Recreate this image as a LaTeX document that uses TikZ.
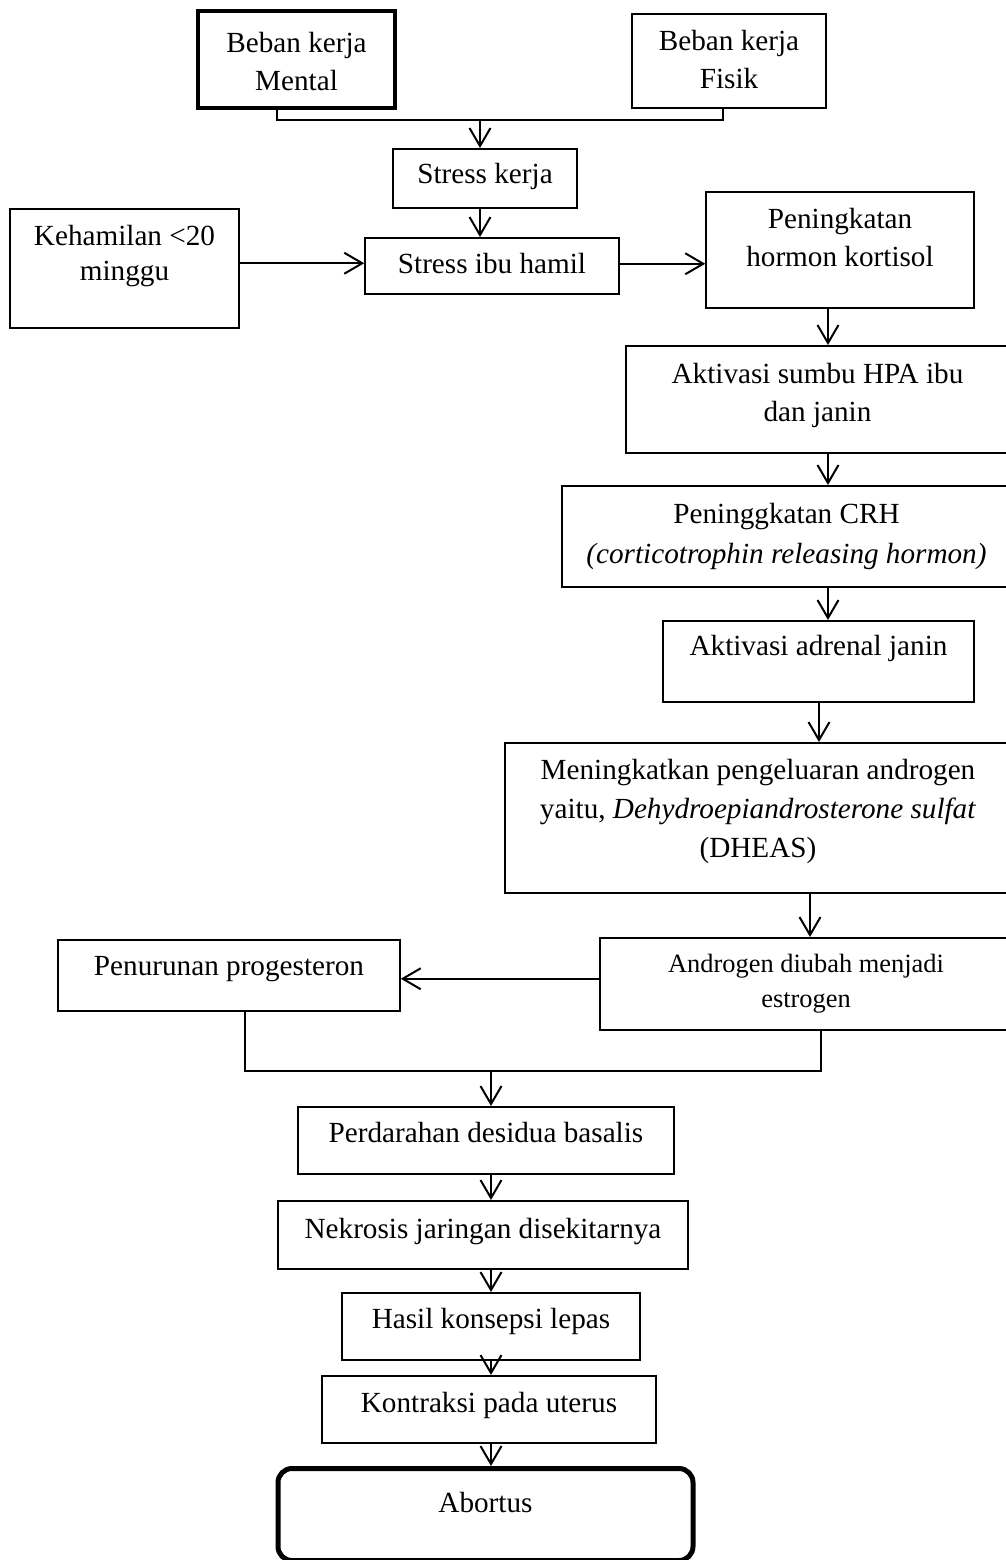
\documentclass[tikz,border=0pt]{standalone}
\usepackage{fontspec}
\setmainfont{Liberation Serif}
\usetikzlibrary{arrows.meta}

\begin{document}
\begin{tikzpicture}[x=0.5pt,y=-0.5pt,line width=1pt,->,
  >={Straight Barb[length=9pt,width=10.5pt]},
  box/.style={draw,line width=0.75pt,anchor=north,inner sep=0pt,align=center,
    font=\fontsize{14.6}{19}\selectfont}]

  \useasboundingbox (0,0) rectangle (1006,1560);

  \node[box,minimum width=98.5pt,text height=39.5pt,text depth=9pt,line width=2pt] (mental) at (296.5,9) {Beban kerja\\Mental};
  \node[box,minimum width=97pt,text height=37.5pt,text depth=9.5pt] (fisik) at (729,13) {Beban kerja\\Fisik};
  \node[box,minimum width=92pt,text height=17.5pt,text depth=12pt] (stresskerja) at (485,148) {Stress kerja};
  \node[box,minimum width=127pt,text height=18pt,text depth=10pt] (stressibu) at (492,237) {Stress ibu hamil};
  \node[box,minimum width=114.5pt,text height=36pt,text depth=23.5pt,font=\fontsize{14.6}{17.5}\selectfont] (hamil) at (124.5,208) {Kehamilan <20\\minggu};
  \node[box,minimum width=134pt,text height=37.5pt,text depth=20.5pt] (kortisol) at (840,191) {Peningkatan\\hormon kortisol};
  \node[box,minimum width=191.5pt,text height=38pt,text depth=15.5pt] (hpa) at (817.5,345) {Aktivasi sumbu HPA ibu\\dan janin};
  \node[box,minimum width=224.5pt,text height=39pt,text depth=11.5pt,font=\fontsize{14.6}{20}\selectfont] (crh) at (786.5,485) {Peninggkatan CRH\\\textit{(corticotrophin releasing hormon)}};
  \node[box,minimum width=155.5pt,text height=17.5pt,text depth=23pt] (adrenal) at (818.5,620) {Aktivasi adrenal janin};
  \node[box,minimum width=253pt,text height=57.5pt,text depth=17.5pt,font=\fontsize{14.6}{19.5}\selectfont] (dheas) at (758,742) {Meningkatkan pengeluaran androgen\\yaitu, \textit{Dehydroepiandrosterone sulfat}\\(DHEAS)};
  \node[box,minimum width=206pt,text height=35pt,text depth=11pt,font=\fontsize{13.2}{17.5}\selectfont] (estrogen) at (806,937) {Androgen diubah menjadi\\estrogen};
  \node[box,minimum width=171pt,text height=18pt,text depth=17.5pt] (progesteron) at (229,939) {Penurunan progesteron};
  \node[box,minimum width=188pt,text height=18pt,text depth=15.5pt] (perdarahan) at (486,1106) {Perdarahan desidua basalis};
  \node[box,minimum width=205pt,text height=19pt,text depth=15pt] (nekrosis) at (483,1200) {Nekrosis jaringan disekitarnya};
  \node[box,minimum width=149pt,text height=18pt,text depth=15.5pt] (hasil) at (491,1292) {Hasil konsepsi lepas};
  \node[box,minimum width=167pt,text height=18.5pt,text depth=15pt] (kontraksi) at (489,1375) {Kontraksi pada uterus};
  \node[box,minimum width=207.5pt,text height=22pt,text depth=24pt,line width=2.5pt,rounded corners=7pt] (abortus) at (485.5,1466) {Abortus};

  % joints and arrow lines
  \coordinate (join1) at (480,120);
  \coordinate (join2) at (491,1071);
  \coordinate (rline) at (828,0);

  \draw[-] ([xshift=-9.75pt]mental.south) |- (join1) -| ([xshift=-3pt]fisik.south);
  \draw (join1) -- (join1 |- stresskerja.north);
  \draw (join1 |- stresskerja.south) -- (join1 |- stressibu.north);
  \draw ([yshift=2.5pt]hamil.east) -- ([yshift=2.5pt]hamil.east -| stressibu.west);
  \draw ([yshift=1pt]stressibu.east) -- ([yshift=1pt]stressibu.east -| kortisol.west);
  \draw (kortisol.south -| rline) -- (hpa.north -| rline);
  \draw (hpa.south -| rline) -- (crh.north -| rline);
  \draw (crh.south -| rline) -- (adrenal.north -| rline);
  \draw ([xshift=0.25pt]adrenal.south) -- ([xshift=0.25pt]adrenal.south |- dheas.north);
  \draw ([xshift=26pt]dheas.south) -- ([xshift=26pt]dheas.south |- estrogen.north);
  \draw ([yshift=2.5pt]estrogen.west) -- ([yshift=2.5pt]estrogen.west -| progesteron.east);

  \draw[-] ([xshift=8pt]progesteron.south) |- (join2) -| ([xshift=7.5pt]estrogen.south);
  \draw (join2) -- (join2 |- perdarahan.north);
  \draw (perdarahan.south -| join2) -- (nekrosis.north -| join2);
  \draw (nekrosis.south -| join2) -- (hasil.north -| join2);
  \draw (hasil.south -| join2) -- (kontraksi.north -| join2);
  \draw (kontraksi.south -| join2) -- (abortus.north -| join2);
\end{tikzpicture}
\end{document}
